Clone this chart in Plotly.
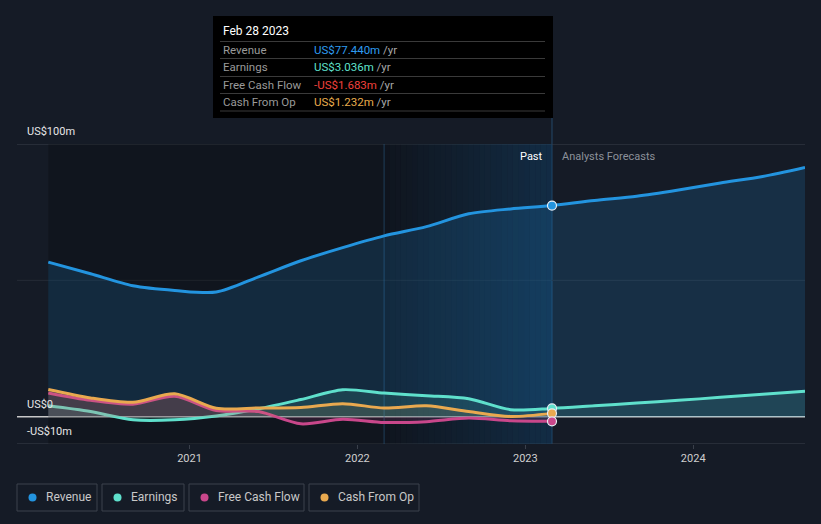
import plotly.graph_objects as go
import pandas as pd

# ---------------- data ----------------
dates_past = ['2020-02-29', '2020-05-31', '2020-08-31', '2020-11-30', '2021-02-28',
              '2021-05-31', '2021-08-31', '2021-11-30', '2022-02-28', '2022-05-31',
              '2022-08-31', '2022-11-30', '2023-02-28']
revenue_past = [56.7, 52.4, 48.0, 46.3, 45.7, 51.3, 57.2, 62.0, 66.3, 69.7, 74.4, 76.2, 77.44]
earnings_past = [4.0, 1.9, -1.1, -1.1, 0.3, 2.9, 6.3, 9.9, 8.7, 7.7, 6.6, 2.6, 3.036]
fcf_past = [8.7, 6.0, 4.6, 7.5, 2.3, 1.9, -2.6, -0.9, -2.1, -1.8, -0.5, -1.5, -1.683]
cfo_past = [10.0, 6.9, 5.3, 8.4, 3.1, 3.2, 3.4, 4.8, 3.2, 4.0, 1.9, 0.1, 1.232]

dates_fc = ['2023-02-28', '2023-05-31', '2023-08-31', '2023-11-30', '2024-02-29',
            '2024-05-31', '2024-08-31']
revenue_fc = [77.44, 79.3, 80.8, 83.1, 85.7, 88.1, 91.4]
earnings_fc = [3.036, 4.0, 5.0, 6.0, 7.1, 8.2, 9.3]

year_ticks = ['2021-01-01', '2022-01-01', '2023-01-01', '2024-01-01']
year_labels = ['2021', '2022', '2023', '2024']

series_names = ['Revenue', 'Earnings', 'Free Cash Flow', 'Cash From Op']
series_colors = ['#2394df', '#5fe0cc', '#c9478b', '#e9a94f']
tooltip_colors = ['#2e9cf0', '#5fe0cc', '#f0413c', '#e9ad4c']
tooltip_values = ['US$77.440m', 'US$3.036m', '-US$1.683m', 'US$1.232m']
tooltip_date = 'Feb 28 2023'

y_ticks = [100, 0, -10]
y_labels = ['US$100m', 'US$0', '-US$10m']

# ---------------- layout constants ----------------
W, H = 821, 524
ML, MR, MT, MB = 17, 16, 144, 80
PW, PH = W - ML - MR, H - MT - MB
BG = '#151b26'
FONT = 'Roboto, Noto Sans, sans-serif'


def px(x):
    return (x - ML) / PW


def py(y):
    return (MT + PH - y) / PH


def rgba(hexc, a):
    h = hexc.lstrip('#')
    return 'rgba(%d,%d,%d,%.3f)' % (int(h[0:2], 16), int(h[2:4], 16), int(h[4:6], 16), a)


fig = go.Figure()

# fills + lines
fig.add_trace(go.Scatter(x=dates_past + dates_fc[1:], y=revenue_past + revenue_fc[1:],
                         mode='lines', line=dict(color=series_colors[0], width=3, shape='spline', smoothing=0.8),
                         fill='tozeroy', fillcolor=rgba(series_colors[0], 0.17), hoverinfo='skip'))
fig.add_trace(go.Scatter(x=dates_past + dates_fc[1:], y=earnings_past + earnings_fc[1:],
                         mode='lines', line=dict(color=series_colors[1], width=3, shape='spline', smoothing=0.8),
                         fill='tozeroy', fillcolor=rgba(series_colors[1], 0.13), hoverinfo='skip'))
fig.add_trace(go.Scatter(x=dates_past, y=fcf_past,
                         mode='lines', line=dict(color=series_colors[2], width=3, shape='spline', smoothing=0.8),
                         fill='tozeroy', fillcolor=rgba(series_colors[2], 0.15), hoverinfo='skip'))
fig.add_trace(go.Scatter(x=dates_past, y=cfo_past,
                         mode='lines', line=dict(color=series_colors[3], width=3, shape='spline', smoothing=0.8),
                         fill='tozeroy', fillcolor=rgba(series_colors[3], 0.12), hoverinfo='skip'))

# end markers
last_vals = [revenue_past[-1], earnings_past[-1], cfo_past[-1], fcf_past[-1]]
last_cols = [series_colors[0], series_colors[1], series_colors[3], series_colors[2]]
for v, c in zip(last_vals, last_cols):
    fig.add_trace(go.Scatter(x=[dates_past[-1]], y=[v], mode='markers',
                             marker=dict(size=9, color=c, line=dict(color='#e8eef5', width=1.2)),
                             hoverinfo='skip'))

shapes = []
# dark past background
shapes.append(dict(type='rect', xref='x', yref='y', x0=dates_past[0], x1=dates_past[-1],
                   y0=-10, y1=100, fillcolor='rgba(0,0,0,0.2)', line=dict(width=0), layer='below'))
# gradient for last year
g0 = pd.Timestamp(dates_past[-5])
g1 = pd.Timestamp(dates_past[-1])
N = 30
edges = pd.date_range(g0, g1, periods=N + 1)
for i in range(N):
    a = 0.30 * (i + 0.5) / N
    shapes.append(dict(type='rect', xref='x', yref='y', x0=edges[i], x1=edges[i + 1],
                       y0=-10, y1=100, fillcolor='rgba(25,100,160,%.3f)' % a,
                       line=dict(width=0), layer='below'))
# vertical lines
shapes.append(dict(type='line', xref='x', yref='y', x0=dates_past[-5], x1=dates_past[-5],
                   y0=-10, y1=100, line=dict(color='rgba(40,90,130,0.6)', width=1), layer='below'))
shapes.append(dict(type='line', xref='x', yref='paper', x0=dates_past[-1], x1=dates_past[-1],
                   y0=0, y1=py(118), line=dict(color='#24486a', width=1), layer='below'))
# horizontal grid lines
shapes.append(dict(type='line', xref='paper', yref='y', x0=0, x1=1, y0=100, y1=100,
                   line=dict(color='#3a404b', width=1), layer='below'))
shapes.append(dict(type='line', xref='paper', yref='y', x0=0, x1=1, y0=50, y1=50,
                   line=dict(color='#262c36', width=1), layer='below'))
shapes.append(dict(type='line', xref='paper', yref='y', x0=0, x1=1, y0=-10, y1=-10,
                   line=dict(color='#3a404b', width=1), layer='below'))
shapes.append(dict(type='line', xref='paper', yref='y', x0=0, x1=1, y0=0, y1=0,
                   line=dict(color='#c8c8c8', width=1.5), layer='below'))

annotations = []
# y labels
for v, t in zip(y_ticks, y_labels):
    annotations.append(dict(xref='paper', yref='y', x=px(25), y=v, yshift=4, text=t, showarrow=False,
                            xanchor='left', yanchor='bottom', font=dict(color='#e6e6e6', size=11, family=FONT)))
# Past / forecast labels
annotations.append(dict(xref='paper', yref='paper', x=px(545), y=py(156), text='Past', showarrow=False,
                        xanchor='right', yanchor='middle', font=dict(color='#ffffff', size=11, family=FONT)))
annotations.append(dict(xref='paper', yref='paper', x=px(560), y=py(156), text='Analysts Forecasts',
                        showarrow=False, xanchor='left', yanchor='middle',
                        font=dict(color='#8c919a', size=11, family=FONT)))

# tooltip
shapes.append(dict(type='rect', xref='paper', yref='paper', x0=px(213), x1=px(553), y0=py(118), y1=py(16),
                   fillcolor='#000000', line=dict(width=0), layer='above'))
for ly in [41.5, 58.5, 76.5, 93.5, 111]:
    shapes.append(dict(type='line', xref='paper', yref='paper', x0=px(220), x1=px(545), y0=py(ly), y1=py(ly),
                       line=dict(color='#3a3a3a', width=1), layer='above'))
annotations.append(dict(xref='paper', yref='paper', x=px(221), y=py(31), text=tooltip_date, showarrow=False,
                        xanchor='left', yanchor='middle', font=dict(color='#ffffff', size=12, family=FONT)))
row_y = [49.5, 66.5, 84.5, 101.5]
for name, val, col, ry in zip(series_names, tooltip_values, tooltip_colors, row_y):
    annotations.append(dict(xref='paper', yref='paper', x=px(221), y=py(ry), text=name, showarrow=False,
                            xanchor='left', yanchor='middle', font=dict(color='#9a9a9a', size=11.5, family=FONT)))
    annotations.append(dict(xref='paper', yref='paper', x=px(312), y=py(ry),
                            text='<span style="color:%s">%s</span> /yr' % (col, val), showarrow=False,
                            xanchor='left', yanchor='middle', font=dict(color='#a8a8a8', size=11.5, family=FONT)))

# custom legend
boxes = [(17, 97), (102, 184), (189, 304), (309, 419)]
for (bx0, bx1), name, col in zip(boxes, series_names, series_colors):
    shapes.append(dict(type='rect', xref='paper', yref='paper', x0=px(bx0), x1=px(bx1), y0=py(511), y1=py(484),
                       fillcolor='rgba(0,0,0,0)', line=dict(color='#3c424d', width=1)))
    shapes.append(dict(type='circle', xref='paper', yref='paper', x0=px(bx0 + 11.5), x1=px(bx0 + 19.5),
                       y0=py(501.5), y1=py(493.5), fillcolor=col, line=dict(width=0)))
    annotations.append(dict(xref='paper', yref='paper', x=px(bx0 + 27), y=py(497.5), text=name, showarrow=False,
                            xanchor='left', yanchor='middle', font=dict(color='#c8c8c8', size=12, family=FONT)))

fig.update_layout(
    width=W, height=H,
    margin=dict(l=ML, r=MR, t=MT, b=MB, pad=0),
    paper_bgcolor=BG, plot_bgcolor=BG,
    showlegend=False,
    shapes=shapes, annotations=annotations,
    font=dict(family=FONT),
    xaxis=dict(range=['2019-12-23', '2024-08-31'], tickvals=year_ticks, ticktext=year_labels,
               showgrid=False, zeroline=False, showline=False, ticks='outside', ticklen=4,
               tickcolor='#3a404b', tickfont=dict(color='#cfcfcf', size=11, family=FONT), fixedrange=True),
    yaxis=dict(range=[-10, 100], showgrid=False, zeroline=False, showticklabels=False, showline=False,
               fixedrange=True),
)

fig.write_html('out.html', config={'displayModeBar': False},
               post_script="document.body.style.margin='0';document.body.style.background='%s';" % BG)
